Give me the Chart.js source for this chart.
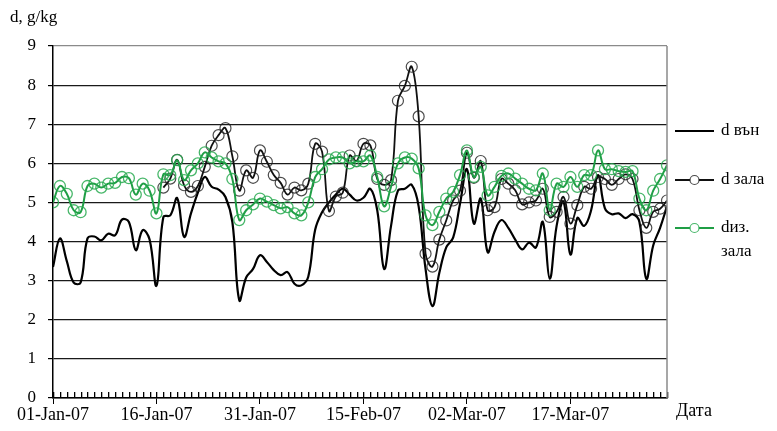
<!DOCTYPE html>
<html>
<head>
<meta charset="utf-8">
<script src="https://cdn.jsdelivr.net/npm/chart.js@4.4.1/dist/chart.umd.min.js"></script>
<style>
  html, body { margin: 0; padding: 0; background: #fff; }
  #wrap { position: relative; width: 777px; height: 431px; }
  canvas { display: block; }
</style>
</head>
<body>
<div id="wrap"><canvas id="c" width="777" height="431"></canvas></div>
<script>
// Daily humidity ratio, 01-Jan-07 .. 31-Mar-07 (one value per day), g/kg
const dOut = [
  3.35, 4.08, 3.5, 2.95, 2.95, 4.08, 4.13, 4.03, 4.2, 4.16,
  4.56, 4.5, 3.78, 4.29, 4.05, 2.87, 4.63, 4.67, 5.11, 4.12,
  4.72, 5.25, 5.65, 5.4, 5.33, 5.14, 4.5, 2.5, 3.08, 3.3,
  3.65, 3.48, 3.27, 3.14, 3.22, 2.92, 2.88, 3.1, 4.3, 4.75,
  5.0, 5.2, 5.35, 5.2, 5.05, 5.12, 5.35, 4.8, 3.3, 4.4,
  5.3, 5.35, 5.45, 4.9, 3.3, 2.35, 3.2, 3.85, 4.1, 4.97,
  5.85, 4.46, 5.1, 3.73, 4.25, 4.55, 4.35, 4.05, 3.8, 3.97,
  3.85, 4.5, 3.05, 4.4, 5.02, 3.67, 4.6, 4.4, 4.8, 5.7,
  4.85, 4.7, 4.72, 4.6, 4.7, 4.5, 3.05, 3.9, 4.35, 4.9
];
const dHall = [
  null, null, null, null, null, null, null, null, null, null,
  null, null, null, null, null, null, 5.38, 5.61, 6.09, 5.44,
  5.27, 5.42, 5.91, 6.45, 6.72, 6.9, 6.18, 5.3, 5.82, 5.63,
  6.33, 6.04, 5.7, 5.5, 5.2, 5.38, 5.31, 5.48, 6.5, 6.3,
  4.78, 5.15, 5.25, 6.2, 6.06, 6.5, 6.46, 5.6, 5.45, 5.57,
  7.6, 7.98, 8.47, 7.2, 3.69, 3.36, 4.05, 4.54, 5.05, 5.3,
  6.27, 5.63, 6.06, 4.8, 4.88, 5.6, 5.48, 5.31, 4.95, 5.0,
  5.05, 5.35, 4.63, 4.76, 5.14, 4.46, 4.93, 5.4, 5.35, 5.65,
  5.6, 5.45, 5.6, 5.72, 5.6, 4.8, 4.35, 4.76, 4.84, 5.05
];
const dDesign = [
  5.0, 5.42, 5.22, 4.8, 4.75, 5.42, 5.48, 5.38, 5.48, 5.5,
  5.65, 5.62, 5.2, 5.48, 5.3, 4.72, 5.72, 5.7, 6.08, 5.57,
  5.82, 6.0, 6.28, 6.15, 6.05, 6.0, 5.6, 4.55, 4.8, 4.95,
  5.1, 5.02, 4.93, 4.85, 4.88, 4.72, 4.67, 5.0, 5.65, 5.85,
  6.1, 6.15, 6.15, 6.0, 6.05, 6.05, 6.2, 5.65, 4.9, 5.4,
  6.0, 6.15, 6.12, 5.87, 4.67, 4.42, 4.76, 5.1, 5.27, 5.7,
  6.33, 5.65, 5.91, 5.18, 5.4, 5.68, 5.74, 5.61, 5.48, 5.35,
  5.31, 5.74, 4.8, 5.48, 5.4, 5.65, 5.4, 5.7, 5.7, 6.33,
  5.85, 5.85, 5.8, 5.78, 5.8, 5.1, 4.8, 5.3, 5.6, 5.95
];
// Date labels every 15 days along the axis
const tickLabels = ['01-Jan-07', '16-Jan-07', '31-Jan-07', '15-Feb-07', '02-Mar-07', '17-Mar-07'];
const tickStep = 15;
const seriesNames = ['d вън', 'd зала', 'dиз.\nзала'];

const SERIF = '"Liberation Serif", "Times New Roman", serif';
const GREEN = '#1f9e45';
const GREEN_MARK = 'rgba(40,170,80,0.85)';

const pts = arr => arr.map((v, i) => ({ x: i, y: v }));

// Right frame line, and the axis caption / units
const framePlugin = {
  id: 'frame',
  afterDraw(chart) {
    const { ctx, chartArea: a } = chart;
    ctx.save();
    ctx.strokeStyle = '#8a8a8a';
    ctx.lineWidth = 1.5;
    ctx.beginPath();
    ctx.moveTo(a.right, a.top);
    ctx.lineTo(a.right, a.bottom);
    ctx.stroke();

    ctx.fillStyle = '#000';
    ctx.font = '17px ' + SERIF;
    ctx.textBaseline = 'middle';
    ctx.textAlign = 'left';
    ctx.fillText('d, g/kg', 10, 18);
    ctx.font = '18px ' + SERIF;
    ctx.fillText('Дата', 676, 411);
    ctx.restore();
  }
};

// One short mark per day, standing up from the date axis
const dayTicksPlugin = {
  id: 'dayTicks',
  afterDraw(chart) {
    const { ctx, chartArea: a, scales } = chart;
    const xs = scales.x;
    ctx.save();
    ctx.fillStyle = '#000';
    const yb = Math.round(a.bottom);
    for (let i = 0; i < dOut.length; i++) {
      const px = Math.round(xs.getPixelForValue(i));
      ctx.fillRect(px, yb - 6, 1.3, 6);
    }
    ctx.restore();
  }
};

// Legend at the right, drawn from each dataset's own style
const legendPlugin = {
  id: 'sideLegend',
  afterDraw(chart) {
    const { ctx } = chart;
    const rows = [131, 180, 228];
    ctx.save();
    chart.data.datasets.forEach((ds, i) => {
      const y = rows[i];
      ctx.strokeStyle = ds.borderColor;
      ctx.lineWidth = ds.borderWidth;
      ctx.beginPath();
      ctx.moveTo(675, y);
      ctx.lineTo(714, y);
      ctx.stroke();
      if (ds.pointRadius > 0) {
        ctx.fillStyle = '#fff';
        ctx.strokeStyle = ds.pointBorderColor;
        ctx.lineWidth = 1.2;
        ctx.beginPath();
        ctx.arc(694.5, y, 4.5, 0, Math.PI * 2);
        ctx.fill();
        ctx.stroke();
      }
      ctx.fillStyle = '#000';
      ctx.font = '17px ' + SERIF;
      ctx.textBaseline = 'middle';
      ctx.textAlign = 'left';
      ds.label.split('\n').forEach((line, k) => ctx.fillText(line, 721, y + k * 24));
    });
    ctx.restore();
  }
};

new Chart(document.getElementById('c'), {
  type: 'line',
  data: {
    datasets: [
      {
        label: seriesNames[0], data: pts(dOut),
        borderColor: '#000', borderWidth: 2.2, pointRadius: 0,
        tension: 0.4, order: 3
      },
      {
        label: seriesNames[1], data: pts(dHall),
        borderColor: '#111', borderWidth: 1.8,
        pointRadius: 5.5, pointBorderColor: 'rgba(30,30,30,0.8)', pointBorderWidth: 1.2,
        pointBackgroundColor: 'rgba(0,0,0,0)',
        tension: 0.4, order: 2
      },
      {
        label: seriesNames[2], data: pts(dDesign),
        borderColor: GREEN, borderWidth: 2,
        pointRadius: 5.5, pointBorderColor: GREEN_MARK, pointBorderWidth: 1.3,
        pointBackgroundColor: 'rgba(0,0,0,0)',
        tension: 0.4, order: 1
      }
    ]
  },
  options: {
    responsive: false,
    animation: false,
    events: [],
    layout: { padding: { top: 46, right: 110, left: 0, bottom: 0 } },
    plugins: { legend: { display: false }, tooltip: { enabled: false } },
    scales: {
      x: {
        type: 'linear', min: 0, max: dOut.length - 1,
        afterFit(s) { s.height = 33; },
        afterBuildTicks(s) { s.ticks = tickLabels.map((_, i) => ({ value: i * tickStep })); },
        ticks: {
          autoSkip: false, maxRotation: 0, padding: 0,
          color: '#000', font: { family: SERIF, size: 18 },
          callback: (v) => tickLabels[Math.round(v / tickStep)] || ''
        },
        grid: { drawOnChartArea: false, drawTicks: true, tickLength: 6, color: '#000', lineWidth: 1 },
        border: { display: true, color: '#000', width: 1.5 }
      },
      y: {
        min: 0, max: 9,
        afterFit(s) { s.width = 53; },
        ticks: { stepSize: 1, padding: 12, color: '#000', font: { family: SERIF, size: 17 } },
        grid: {
          color: (c) => (c.tick && c.tick.value === 9 ? '#8a8a8a' : '#1a1a1a'),
          lineWidth: 1.2, tickLength: 5, drawTicks: true, tickColor: '#000'
        },
        border: { display: true, color: '#000', width: 1.5 }
      }
    }
  },
  plugins: [dayTicksPlugin, framePlugin, legendPlugin]
});
</script>
</body>
</html>
